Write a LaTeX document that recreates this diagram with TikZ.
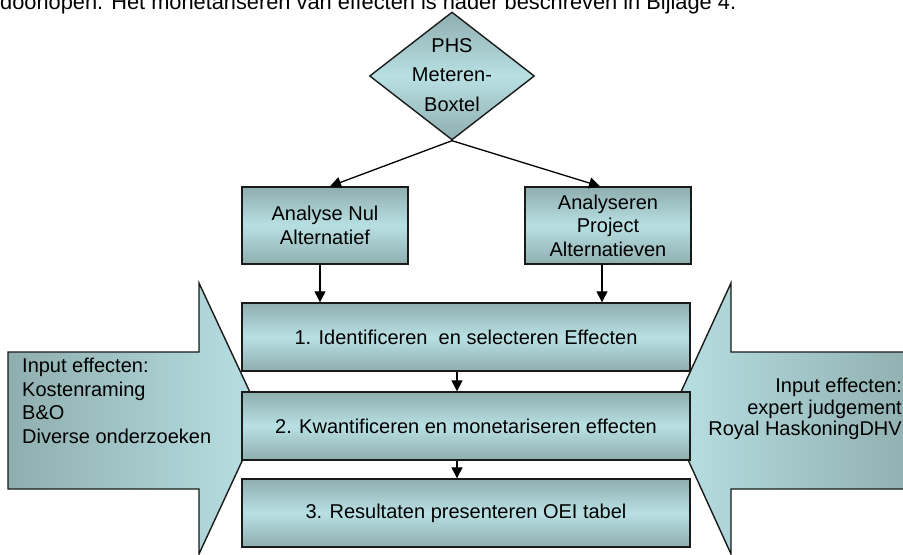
\documentclass[tikz,border=0pt]{standalone}
\usepackage{fontspec}
\setmainfont{Liberation Sans}
\usetikzlibrary{shapes.geometric,arrows.meta,calc}
\definecolor{tdark}{HTML}{8FAEAF}
\definecolor{tlight}{HTML}{B8E0E3}
\definecolor{edge}{HTML}{1A1A1A}
\tikzset{
  stepbox/.style={draw=edge, line width=1.4bp, rectangle, inner sep=0pt,
    top color=tdark, bottom color=tdark, middle color=tlight,
    font=\fontsize{20bp}{24bp}\selectfont, align=center},
  arr/.style={line width=1.3bp, -{Triangle[length=11bp,width=11bp]}},
  bigarrow/.style={draw=edge, line width=1.4bp, line join=miter},
  lbl/.style={inner sep=0pt, font=\fontsize{20bp}{24bp}\selectfont}
}
\begin{document}
\begin{tikzpicture}[x=1bp,y=-1bp]
\useasboundingbox (0,0) rectangle (903,555);
\clip (0,0) rectangle (903,555);
% cut-off line of text at the top
\node[lbl, anchor=base west, font=\fontsize{21.8bp}{26bp}\selectfont] (toptext) at (0,9.5) {doorlopen. Het monetariseren van effecten is nader beschreven in Bijlage 4.};
% big input arrows
\path[bigarrow, left color=tdark, right color=tlight]
  (8,352) -- (199,352) -- (199,283) -- (262,418) -- (199,554) -- (199,489) -- (8,489) -- cycle;
\path[bigarrow, left color=tlight, right color=tdark]
  (920,352) -- (731,352) -- (731,283) -- (669,418) -- (731,554) -- (731,489) -- (920,489) -- cycle;
\node[lbl, anchor=west, align=left, font=\fontsize{20bp}{23.7bp}\selectfont] (inl) at (22,401)
  {Input effecten:\\Kostenraming\\B\&O\\Diverse onderzoeken};
\node[lbl, anchor=east, align=right, font=\fontsize{20bp}{21.5bp}\selectfont] (inr) at (902,409)
  {Input effecten:\\expert judgement\\Royal HaskoningDHV};
% diamond
\node[diamond, draw=edge, line width=1.4bp, inner sep=0pt, minimum width=165bp, minimum height=128bp,
  top color=tdark, bottom color=tdark, middle color=tlight] (phs) at (452,76)
  {\raisebox{-5bp}[0pt][0pt]{\fontsize{20bp}{29.5bp}\selectfont\begin{tabular}{@{}c@{}}PHS\\Meteren-\\Boxtel\end{tabular}}};
% boxes
\node[stepbox, minimum width=166bp, minimum height=77bp] (nul) at (325,225.5) {Analyse Nul\\Alternatief};
\node[stepbox, minimum width=166bp, minimum height=77bp, font=\fontsize{20bp}{23.5bp}\selectfont] (proj) at (608,225.5) {Analyseren\\Project\\Alternatieven};
\node[stepbox, minimum width=448bp, minimum height=68bp] (s1) at (466,337) {1. Identificeren\ \ en selecteren Effecten};
\node[stepbox, minimum width=448bp, minimum height=68bp] (s2) at (466,426) {2. Kwantificeren en monetariseren effecten};
\node[stepbox, minimum width=448bp, minimum height=68bp] (s3) at (466,513) {3. Resultaten presenteren OEI tabel};
% connectors
\draw[arr] (phs.south) -- ([xshift=5bp]nul.north);
\draw[arr] (phs.south) -- ([xshift=-8bp]proj.north);
\draw[arr] ([xshift=-5bp]nul.south) -- ([xshift=-5bp]nul.south |- s1.north);
\draw[arr] ([xshift=-6bp]proj.south) -- ([xshift=-6bp]proj.south |- s1.north);
\draw[arr] ([xshift=-9bp]s1.south) -- ([xshift=-9bp]s2.north);
\draw[arr] ([xshift=-9bp]s2.south) -- ([xshift=-9bp]s3.north);
\end{tikzpicture}
\end{document}
